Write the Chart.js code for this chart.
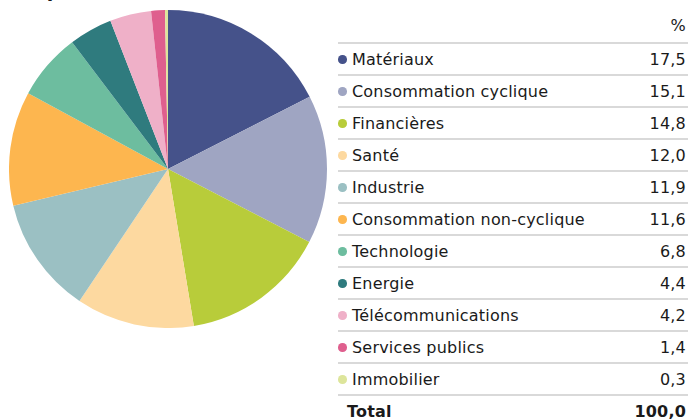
<!DOCTYPE html>
<html>
<head>
<meta charset="utf-8">
<script src="https://cdn.jsdelivr.net/npm/chart.js@4.4.1/dist/chart.umd.min.js"></script>
<style>
    body { margin: 0; background: #fff; width: 689px; height: 419px; overflow: hidden; position: relative;
           font-family: "DejaVu Sans", Verdana, sans-serif; color: #1a1a1a; }
    #title { position: absolute; left: 0; top: -21px; font-size: 19px; font-weight: bold; white-space: nowrap; }
    #pieWrap { position: absolute; left: 9px; top: 10px; width: 318px; height: 318px; }
    #legend { position: absolute; left: 338px; top: 0; width: 350px; font-size: 16px; letter-spacing: 0.2px; }
    .row { position: absolute; left: 0; width: 350px; height: 30px; line-height: 30px; }
    .line { position: absolute; left: 0; width: 350px; height: 2px; background: #d9d9d9; }
    .dot { position: absolute; left: 0; top: 10px; width: 8.5px; height: 8.5px; border-radius: 50%; }
    .name { position: absolute; left: 14px; white-space: nowrap; }
    .val { position: absolute; right: 2px; white-space: nowrap; }
    .total { font-weight: bold; }
</style>
</head>
<body>
<div id="title">Composition sectorielle</div>
<div id="pieWrap"><canvas id="sectorChart" width="318" height="318"></canvas></div>
<div id="legend"></div>

<script>
// Sector breakdown (%)
var sectors = ['Matériaux', 'Consommation cyclique', 'Financières', 'Santé', 'Industrie',
    'Consommation non-cyclique', 'Technologie', 'Energie', 'Télécommunications',
    'Services publics', 'Immobilier'];
var weights = [17.5, 15.1, 14.8, 12.0, 11.9, 11.6, 6.8, 4.4, 4.2, 1.4, 0.3];
var totalLabel = 'Total';
var totalValue = 100.0;
var colors = ['#45528a', '#9fa5c2', '#b8cc3a', '#fdd9a0', '#9bc0c3',
    '#fdb64f', '#6dbd9f', '#2f7b7e', '#efb0c8', '#df5f8e', '#dde59b'];

function fmt(v) {
    return v.toFixed(1).replace('.', ',');
}

var ctx = document.getElementById('sectorChart').getContext('2d');
var sectorChart = new Chart(ctx, {
    type: 'pie',
    data: {
        labels: sectors,
        datasets: [{
            data: weights,
            backgroundColor: colors,
            borderWidth: 0
        }]
    },
    options: {
        responsive: false,
        animation: false,
        layout: { padding: 0 },
        plugins: {
            legend: { display: false },
            tooltip: { enabled: false }
        }
    }
});

// table legend on the right
var legend = document.getElementById('legend');
var rowH = 32;
var firstLine = 42;

function addLine(y) {
    var l = document.createElement('div');
    l.className = 'line';
    l.style.top = y + 'px';
    legend.appendChild(l);
}

function addRow(y, name, value, color, isTotal) {
    var r = document.createElement('div');
    r.className = 'row' + (isTotal ? ' total' : '');
    r.style.top = y + 'px';
    if (color) {
        var d = document.createElement('div');
        d.className = 'dot';
        d.style.background = color;
        r.appendChild(d);
    }
    var n = document.createElement('div');
    n.className = 'name';
    n.textContent = name;
    if (isTotal) n.style.left = '9px';
    r.appendChild(n);
    var v = document.createElement('div');
    v.className = 'val';
    v.textContent = value;
    r.appendChild(v);
    legend.appendChild(r);
}

addRow(firstLine - rowH + 1, '', '%', null, false);
addLine(firstLine);
for (var i = 0; i < sectors.length; i++) {
    var rowTop = firstLine + i * rowH;
    addRow(rowTop + 3, sectors[i], fmt(weights[i]), colors[i], false);
    addLine(rowTop + rowH);
}
addRow(firstLine + sectors.length * rowH + 3, totalLabel, fmt(totalValue), null, true);
</script>
</body>
</html>
